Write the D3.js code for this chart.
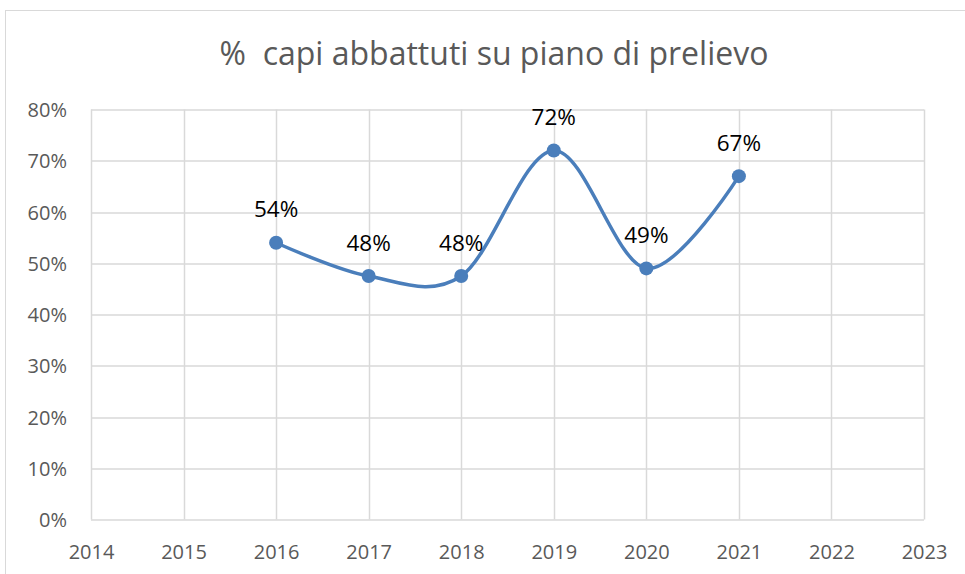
<!DOCTYPE html>
<html>
<head>
<meta charset="utf-8">
<script src="https://cdn.jsdelivr.net/npm/d3@7"></script>
<style>
  body { margin: 0; background: #fff; }
  text { font-family: "Open Sans", sans-serif; }
</style>
</head>
<body>
<svg class="chart-svg" width="965" height="574"></svg>
<script>
const years = [2016, 2017, 2018, 2019, 2020, 2021]
const values = [0.54, 0.475, 0.475, 0.72, 0.49, 0.67]
const labels = ['54%', '48%', '48%', '72%', '49%', '67%']
const yTicks = [0, 0.1, 0.2, 0.3, 0.4, 0.5, 0.6, 0.7, 0.8]
const xTicks = [2014, 2015, 2016, 2017, 2018, 2019, 2020, 2021, 2022, 2023]

const svg = d3.select('.chart-svg')
const margin = { left: 91, right: 41, top: 109.5, bottom: 54.5 }
const width = 965 - margin.left - margin.right
const height = 574 - margin.top - margin.bottom
const color = '#4a7ebb'
const gridColor = '#d9d9d9'
const textColor = '#595959'

// chart frame
svg.append('rect')
  .attr('x', 5.5)
  .attr('y', 10.5)
  .attr('width', 975)
  .attr('height', 600)
  .attr('fill', 'none')
  .attr('stroke', gridColor)

svg.append('text')
  .attr('x', 494)
  .attr('y', 65)
  .attr('text-anchor', 'middle')
  .attr('font-size', 32)
  .attr('fill', textColor)
  .style('white-space', 'pre')
  .text('%  capi abbattuti su piano di prelievo')

const x = d3.scaleLinear().domain([2014, 2023]).range([0, width])
const y = d3.scaleLinear().domain([0, 0.8]).range([height, 0])

const g = svg.append('g')
  .attr('transform', `translate(${margin.left}, ${margin.top})`)

// gridlines
g.append('g')
  .selectAll('line')
  .data(yTicks)
  .enter()
  .append('line')
  .attr('x1', 0)
  .attr('x2', width)
  .attr('y1', d => Math.round(y(d)) + 0.5)
  .attr('y2', d => Math.round(y(d)) + 0.5)
  .attr('stroke', gridColor)
  .attr('stroke-width', 1.5)

g.append('g')
  .selectAll('line')
  .data(xTicks)
  .enter()
  .append('line')
  .attr('x1', d => Math.round(x(d)) + 0.5)
  .attr('x2', d => Math.round(x(d)) + 0.5)
  .attr('y1', 0)
  .attr('y2', height)
  .attr('stroke', gridColor)
  .attr('stroke-width', 1.5)

// axes
const yAxis = g.append('g')
  .call(d3.axisLeft(y).tickValues(yTicks).tickFormat(d3.format('.0%')).tickSize(0).tickPadding(24))
yAxis.select('.domain').remove()
yAxis.selectAll('text')
  .attr('dy', 7)
  .attr('font-size', 20)
  .attr('fill', textColor)
  .style('font-family', '"Open Sans", sans-serif')

const xAxis = g.append('g')
  .attr('transform', `translate(0, ${height})`)
  .call(d3.axisBottom(x).tickValues(xTicks).tickFormat(d3.format('d')).tickSize(0).tickPadding(0))
xAxis.select('.domain').remove()
xAxis.selectAll('text')
  .attr('dy', 39)
  .attr('font-size', 20)
  .attr('fill', textColor)
  .style('font-family', '"Open Sans", sans-serif')

// line
const points = years.map((d, i) => [d, values[i]])
const line = d3.line()
  .x(d => x(d[0]))
  .y(d => y(d[1]))
  .curve(d3.curveCatmullRom.alpha(0))

g.append('path')
  .datum(points)
  .attr('d', line)
  .attr('fill', 'none')
  .attr('stroke', color)
  .attr('stroke-width', 3.5)

g.selectAll('.dot')
  .data(points)
  .enter()
  .append('circle')
  .attr('class', 'dot')
  .attr('cx', d => x(d[0]))
  .attr('cy', d => y(d[1]))
  .attr('r', 7)
  .attr('fill', color)

g.selectAll('.label')
  .data(points)
  .enter()
  .append('text')
  .attr('class', 'label')
  .attr('x', d => x(d[0]))
  .attr('y', d => y(d[1]) - 25.5)
  .attr('text-anchor', 'middle')
  .attr('font-size', 22.5)
  .attr('fill', '#000')
  .text((d, i) => labels[i])
</script>
</body>
</html>
